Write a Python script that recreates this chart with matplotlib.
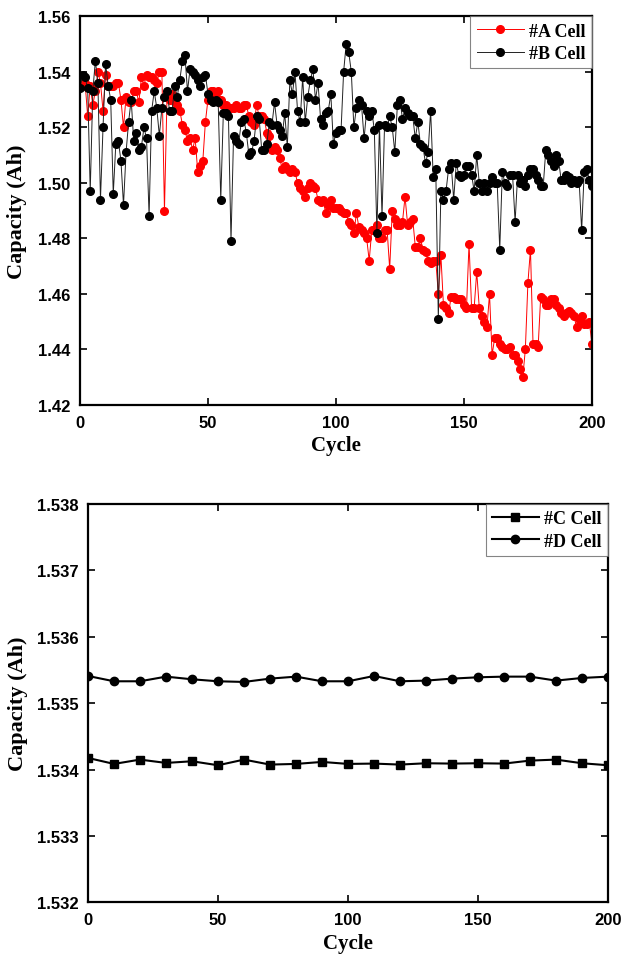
import numpy as np
import matplotlib.pyplot as plt
from matplotlib.ticker import FormatStrFormatter

# ---- top panel: #A / #B cells, one point per cycle (0..200)
cycle_ab = np.arange(0, 201)
cap_a = [1.536, 1.535, 1.536, 1.524, 1.535, 1.528, 1.533, 1.540, 1.536, 1.526,
         1.539, 1.535, 1.535, 1.535, 1.536, 1.536, 1.530, 1.520, 1.531, 1.529,
         1.529, 1.533, 1.533, 1.529, 1.538, 1.535, 1.539, 1.538, 1.538, 1.537,
         1.536, 1.540, 1.540, 1.490, 1.531, 1.530, 1.532, 1.529, 1.528, 1.526,
         1.521, 1.519, 1.515, 1.516, 1.512, 1.516, 1.504, 1.506, 1.508, 1.522,
         1.530, 1.533, 1.533, 1.531, 1.533, 1.530, 1.528, 1.528, 1.527, 1.527,
         1.527, 1.528, 1.527, 1.527, 1.528, 1.528, 1.524, 1.522, 1.521, 1.528,
         1.524, 1.524, 1.523, 1.518, 1.517, 1.512, 1.513, 1.512, 1.509, 1.505,
         1.506, 1.505, 1.504, 1.505, 1.504, 1.500, 1.498, 1.497, 1.495, 1.498,
         1.500, 1.499, 1.498, 1.494, 1.493, 1.494, 1.489, 1.492, 1.494, 1.491,
         1.491, 1.491, 1.490, 1.489, 1.489, 1.486, 1.485, 1.482, 1.489, 1.484,
         1.483, 1.482, 1.480, 1.472, 1.483, 1.483, 1.485, 1.480, 1.480, 1.483,
         1.483, 1.469, 1.490, 1.487, 1.485, 1.485, 1.486, 1.495, 1.485, 1.486,
         1.487, 1.477, 1.477, 1.480, 1.476, 1.475, 1.472, 1.471, 1.472, 1.472,
         1.460, 1.474, 1.456, 1.455, 1.453, 1.459, 1.459, 1.458, 1.458, 1.458,
         1.456, 1.455, 1.478, 1.455, 1.455, 1.468, 1.455, 1.452, 1.450, 1.448,
         1.460, 1.438, 1.444, 1.444, 1.442, 1.441, 1.440, 1.440, 1.441, 1.438,
         1.438, 1.436, 1.433, 1.430, 1.440, 1.464, 1.476, 1.442, 1.442, 1.441,
         1.459, 1.458, 1.456, 1.456, 1.458, 1.458, 1.456, 1.455, 1.453, 1.452,
         1.453, 1.454, 1.453, 1.452, 1.448, 1.451, 1.452, 1.449, 1.449, 1.450,
         1.442]
cap_b = [1.534, 1.539, 1.538, 1.534, 1.497, 1.533, 1.544, 1.536, 1.494, 1.520,
         1.543, 1.535, 1.530, 1.496, 1.514, 1.515, 1.508, 1.492, 1.511, 1.522,
         1.530, 1.515, 1.518, 1.512, 1.513, 1.520, 1.516, 1.488, 1.526, 1.533,
         1.527, 1.517, 1.527, 1.531, 1.533, 1.526, 1.526, 1.535, 1.531, 1.537,
         1.544, 1.546, 1.533, 1.541, 1.540, 1.539, 1.537, 1.535, 1.538, 1.539,
         1.532, 1.530, 1.529, 1.530, 1.529, 1.494, 1.525, 1.525, 1.524, 1.479,
         1.517, 1.515, 1.514, 1.522, 1.523, 1.518, 1.510, 1.511, 1.515, 1.524,
         1.523, 1.512, 1.512, 1.514, 1.522, 1.521, 1.529, 1.521, 1.519, 1.517,
         1.525, 1.513, 1.537, 1.532, 1.540, 1.526, 1.522, 1.538, 1.522, 1.531,
         1.537, 1.541, 1.530, 1.536, 1.523, 1.521, 1.525, 1.526, 1.532, 1.514,
         1.518, 1.519, 1.519, 1.540, 1.550, 1.547, 1.540, 1.520, 1.527, 1.530,
         1.528, 1.516, 1.526, 1.524, 1.526, 1.519, 1.482, 1.521, 1.488, 1.521,
         1.520, 1.524, 1.520, 1.511, 1.528, 1.530, 1.523, 1.527, 1.525, 1.524,
         1.524, 1.516, 1.522, 1.514, 1.513, 1.507, 1.511, 1.526, 1.502, 1.505,
         1.451, 1.497, 1.494, 1.497, 1.505, 1.507, 1.494, 1.507, 1.503, 1.502,
         1.503, 1.506, 1.506, 1.503, 1.497, 1.510, 1.500, 1.497, 1.500, 1.497,
         1.500, 1.502, 1.500, 1.500, 1.476, 1.504, 1.500, 1.499, 1.503, 1.503,
         1.486, 1.503, 1.500, 1.501, 1.499, 1.503, 1.505, 1.505, 1.503, 1.501,
         1.499, 1.499, 1.512, 1.510, 1.508, 1.506, 1.510, 1.508, 1.501, 1.501,
         1.503, 1.502, 1.500, 1.501, 1.500, 1.501, 1.483, 1.504, 1.505, 1.501,
         1.499]

# ---- bottom panel: #C / #D cells, every 10 cycles
cycle_cd = np.arange(0, 201, 10)
cap_c = [1.534175, 1.534085, 1.534150, 1.534100, 1.534125, 1.534065, 1.534150,
         1.534075, 1.534085, 1.534115, 1.534085, 1.534090, 1.534075, 1.534095,
         1.534090, 1.534095, 1.534090, 1.534135, 1.534150, 1.534095, 1.534065]
cap_d = [1.535410, 1.535330, 1.535330, 1.535400, 1.535360, 1.535330, 1.535320,
         1.535370, 1.535400, 1.535330, 1.535330, 1.535410, 1.535330, 1.535340,
         1.535370, 1.535390, 1.535400, 1.535400, 1.535340, 1.535380, 1.535400]

serif = ['Liberation Serif', 'DejaVu Serif']
sans = ['Liberation Sans', 'DejaVu Sans']

fig = plt.figure(figsize=(6.22, 9.62), dpi=100)
ax1 = fig.add_axes([0.1286, 0.578, 0.823, 0.404])
ax2 = fig.add_axes([0.1415, 0.061, 0.836, 0.414])


def style(ax, fmt, ylpad):
    ax.tick_params(direction='in', top=True, right=True, length=5, width=1.2, pad=7)
    for s in ax.spines.values():
        s.set_linewidth(1.6)
    ax.yaxis.set_major_formatter(FormatStrFormatter(fmt))
    for lab in ax.get_xticklabels() + ax.get_yticklabels():
        lab.set_family(sans)
        lab.set_fontweight('bold')
        lab.set_fontsize(12)
    ax.set_xlabel('Cycle', family=serif, fontweight='bold', fontsize=15, labelpad=4)
    ax.set_ylabel('Capacity (Ah)', family=serif, fontweight='bold', fontsize=16,
                  labelpad=ylpad)
    leg = ax.legend(loc='upper right', borderaxespad=0.0, fancybox=False,
                    handlelength=2.6, handletextpad=0.3, borderpad=0.35,
                    labelspacing=0.3,
                    prop={'family': serif, 'weight': 'bold', 'size': 13})
    leg.get_frame().set_edgecolor('#666666')
    leg.get_frame().set_linewidth(0.8)


ax1.plot(cycle_ab, cap_a, color='red', lw=0.7, marker='o', ms=5.5, label='#A Cell')
ax1.plot(cycle_ab, cap_b, color='#222222', lw=0.7, marker='o', ms=5.5,
         mfc='black', mec='black', label='#B Cell')
ax1.set_xlim(0, 200)
ax1.set_ylim(1.42, 1.56)
ax1.set_xticks([0, 50, 100, 150, 200])
ax1.set_yticks(np.arange(1.42, 1.5601, 0.02))
style(ax1, '%.2f', 8)

ax2.plot(cycle_cd, cap_c, color='black', lw=1.5, marker='s', ms=5.5, label='#C Cell')
ax2.plot(cycle_cd, cap_d, color='black', lw=1.5, marker='o', ms=6, label='#D Cell')
ax2.set_xlim(0, 200)
ax2.set_ylim(1.532, 1.538)
ax2.set_xticks([0, 50, 100, 150, 200])
ax2.set_yticks(np.arange(1.532, 1.53801, 0.001))
style(ax2, '%.3f', 6)

fig.savefig('out.png', dpi=100)
